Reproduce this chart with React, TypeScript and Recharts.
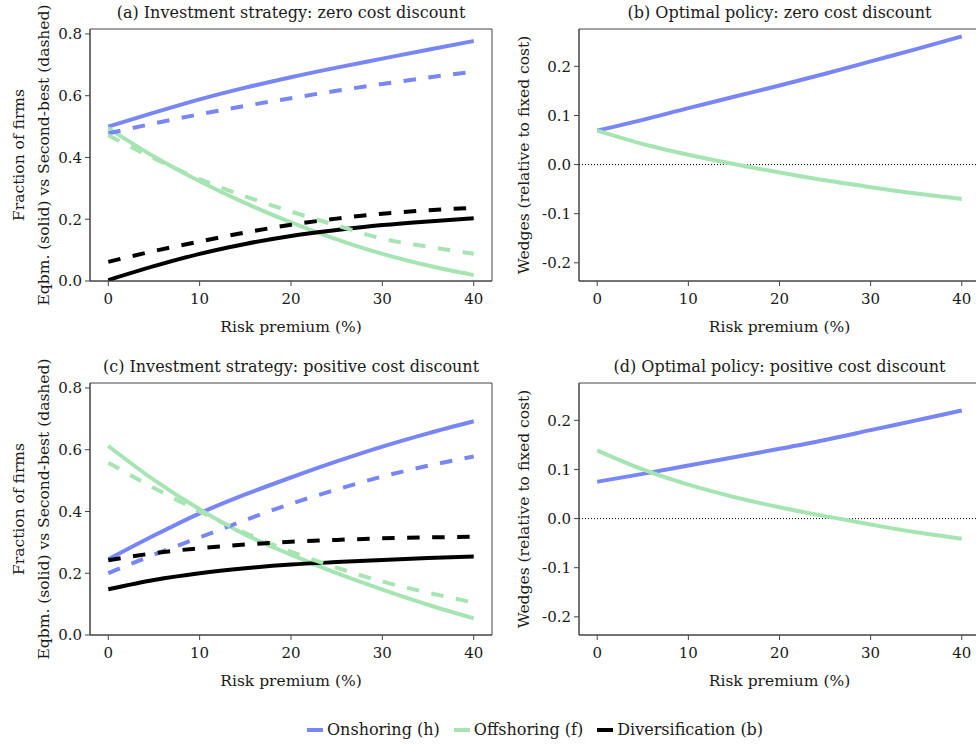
import { LineChart, Line, XAxis, YAxis, ReferenceLine, ReferenceArea, Legend, Label } from 'recharts';

const FONT = '"DejaVu Serif", serif';
const BLUE = '#7986F6';
const GREEN = '#A6E5B3';
const BLACK = '#000000';

// risk premium (%) on the x axis
const riskPremium = [0, 5, 10, 15, 20, 25, 30, 35, 40];
const xTicks = [0, 10, 20, 30, 40];

// (a) zero cost discount: fraction of firms, eqbm vs second-best
const aOnshoreEq = [0.5, 0.545, 0.588, 0.626, 0.66, 0.691, 0.72, 0.749, 0.777];
const aOnshoreSb = [0.478, 0.51, 0.54, 0.567, 0.592, 0.616, 0.638, 0.659, 0.678];
const aOffshoreEq = [0.495, 0.403, 0.323, 0.252, 0.19, 0.135, 0.088, 0.05, 0.019];
const aOffshoreSb = [0.472, 0.397, 0.33, 0.274, 0.225, 0.18, 0.137, 0.111, 0.088];
const aDiverseEq = [0.003, 0.048, 0.088, 0.12, 0.146, 0.165, 0.181, 0.193, 0.203];
const aDiverseSb = [0.062, 0.097, 0.128, 0.157, 0.182, 0.202, 0.218, 0.229, 0.237];

// (b) zero cost discount: wedges
const bOnshore = [0.069, 0.091, 0.115, 0.138, 0.161, 0.185, 0.21, 0.235, 0.261];
const bOffshore = [0.069, 0.042, 0.02, 0.001, -0.016, -0.032, -0.046, -0.059, -0.07];

// (c) positive cost discount: fraction of firms
const cOnshoreEq = [0.245, 0.322, 0.394, 0.455, 0.51, 0.562, 0.61, 0.653, 0.692];
const cOnshoreSb = [0.2, 0.26, 0.316, 0.372, 0.425, 0.471, 0.513, 0.548, 0.578];
const cOffshoreEq = [0.612, 0.502, 0.407, 0.325, 0.26, 0.2, 0.147, 0.098, 0.054];
const cOffshoreSb = [0.558, 0.476, 0.4, 0.33, 0.27, 0.218, 0.173, 0.137, 0.105];
const cDiverseEq = [0.148, 0.178, 0.2, 0.216, 0.228, 0.236, 0.243, 0.249, 0.254];
const cDiverseSb = [0.242, 0.265, 0.281, 0.293, 0.302, 0.308, 0.313, 0.316, 0.318];

// (d) positive cost discount: wedges
const dOnshore = [0.075, 0.091, 0.108, 0.125, 0.142, 0.16, 0.18, 0.2, 0.22];
const dOffshore = [0.139, 0.1, 0.069, 0.044, 0.023, 0.005, -0.012, -0.028, -0.041];

const shareTicks = [0, 0.2, 0.4, 0.6, 0.8];
const wedgeTicks = [-0.2, -0.1, 0, 0.1, 0.2];
const legendOrder = ['Onshoring (h)', 'Offshoring (f)', 'Diversification (b)'];

const shareRows = (on: number[], onSb: number[], off: number[], offSb: number[], div: number[], divSb: number[]) =>
  riskPremium.map((x, i) => ({ x, on: on[i], onSb: onSb[i], off: off[i], offSb: offSb[i], div: div[i], divSb: divSb[i] }));

const wedgeRows = (on: number[], off: number[]) => riskPremium.map((x, i) => ({ x, on: on[i], off: off[i] }));

const shareSeries = [
  { key: 'on', name: legendOrder[0], color: BLUE },
  { key: 'off', name: legendOrder[1], color: GREEN },
  { key: 'div', name: legendOrder[2], color: BLACK },
  { key: 'onSb', name: legendOrder[0], color: BLUE, dashed: true },
  { key: 'offSb', name: legendOrder[1], color: GREEN, dashed: true },
  { key: 'divSb', name: legendOrder[2], color: BLACK, dashed: true },
];

const wedgeSeries = [
  { key: 'on', name: legendOrder[0], color: BLUE },
  { key: 'off', name: legendOrder[1], color: GREEN },
];

const tickStyle = { fontFamily: FONT, fontSize: 15, fill: '#1a1a1a' };

const renderLegend = (props: any) => {
  const items = (props.payload || [])
    .filter((p: any) => p.type !== 'none')
    .sort((a: any, b: any) => legendOrder.indexOf(a.value) - legendOrder.indexOf(b.value));
  return (
    <div style={{ display: 'flex', alignItems: 'center', fontFamily: FONT, fontSize: 16, color: '#1a1a1a', whiteSpace: 'nowrap' }}>
      {items.map((p: any) => (
        <span key={p.value} style={{ display: 'flex', alignItems: 'center', marginRight: 14 }}>
          <span style={{ width: 16, height: 4, background: p.color, marginRight: 4 }} />
          {p.value}
        </span>
      ))}
    </div>
  );
};

type PanelProps = {
  left: number;
  top: number;
  plotLeft: number;
  plotRight: number;
  title: string;
  rows: any[];
  series: { key: string; name: string; color: string; dashed?: boolean }[];
  yDomain: [number, number];
  yTicks: number[];
  yLabel: string[];
  zeroLine?: boolean;
  legend?: boolean;
};

function Panel({ left, top, plotLeft, plotRight, title, rows, series, yDomain, yTicks, yLabel, zeroLine, legend }: PanelProps) {
  const width = plotRight - left + 8;
  const yAxisW = plotLeft - left;

  const yLabelContent = (props: any) => {
    const vb = props.viewBox;
    const cy = vb.y + vb.height / 2;
    const xs = yLabel.length === 2 ? [19 - left, 44 - left] : [524 - left];
    return (
      <g>
        {yLabel.map((t, i) => (
          <text key={t} x={xs[i]} y={cy} transform={`rotate(-90 ${xs[i]} ${cy})`} textAnchor="middle"
            dominantBaseline="central" fontFamily={FONT} fontSize={15.5} fill="#1a1a1a">{t}</text>
        ))}
      </g>
    );
  };

  const xLabelContent = (props: any) => {
    const vb = props.viewBox;
    return (
      <text x={vb.x + vb.width / 2} y={vb.y + 46} textAnchor="middle" dominantBaseline="central"
        fontFamily={FONT} fontSize={15.5} fill="#1a1a1a">Risk premium (%)</text>
    );
  };

  return (
    <div style={{ position: 'absolute', left, top }}>
      <div style={{ position: 'absolute', left: yAxisW, width: plotRight - plotLeft, top: 3, textAlign: 'center',
        fontFamily: FONT, fontSize: 16, color: '#1a1a1a', whiteSpace: 'nowrap', zIndex: 2 }}>{title}</div>
      <LineChart width={width} height={340} data={rows} margin={{ top: 29, right: 8, bottom: 0, left: 0 }}>
        <XAxis dataKey="x" type="number" domain={[-2, 42]} ticks={xTicks} allowDataOverflow
          tick={tickStyle} tickSize={5} tickMargin={7} height={59}
          axisLine={{ stroke: '#444' }} tickLine={{ stroke: '#444' }}>
          <Label content={xLabelContent} />
        </XAxis>
        <YAxis type="number" domain={yDomain} ticks={yTicks} allowDataOverflow width={yAxisW}
          tick={tickStyle} tickSize={5} tickMargin={3} tickFormatter={(v: number) => v.toFixed(1)}
          axisLine={{ stroke: '#444' }} tickLine={{ stroke: '#444' }}>
          <Label content={yLabelContent} />
        </YAxis>
        <ReferenceArea x1={-2} x2={42} y1={yDomain[0]} y2={yDomain[1]} fill="none" stroke="#444" strokeWidth={1} ifOverflow="visible" />
        {zeroLine && <ReferenceLine y={0} stroke="#000" strokeWidth={1} strokeDasharray="1 2" />}
        {series.map((s) => (
          <Line key={s.key} dataKey={s.key} name={s.name} type="monotone" stroke={s.color}
            strokeWidth={4} strokeDasharray={s.dashed ? '12.5 12.5' : undefined} dot={false}
            activeDot={false} legendType={s.dashed ? 'none' : 'line'} isAnimationActive={false} />
        ))}
        {legend && (
          <Legend verticalAlign="middle" align="center" layout="horizontal" content={renderLegend}
            wrapperStyle={{ top: 720 - top, left: 307 - left, width: 'auto' }} />
        )}
      </LineChart>
    </div>
  );
}

export default function App() {
  return (
    <div style={{ position: 'absolute', left: 0, top: 0, width: 976, height: 744, overflow: 'hidden', background: '#fff' }}>
      <Panel left={0} top={0} plotLeft={90} plotRight={492}
        title="(a) Investment strategy: zero cost discount"
        rows={shareRows(aOnshoreEq, aOnshoreSb, aOffshoreEq, aOffshoreSb, aDiverseEq, aDiverseSb)}
        series={shareSeries} yDomain={[0, 0.816]} yTicks={shareTicks}
        yLabel={['Fraction of firms', 'Eqbm. (solid) vs Second-best (dashed)']} />
      <Panel left={490} top={0} plotLeft={579} plotRight={980}
        title="(b) Optimal policy: zero cost discount"
        rows={wedgeRows(bOnshore, bOffshore)} series={wedgeSeries}
        yDomain={[-0.237, 0.276]} yTicks={wedgeTicks}
        yLabel={['Wedges (relative to fixed cost)']} zeroLine />
      <Panel left={0} top={354} plotLeft={90} plotRight={492}
        title="(c) Investment strategy: positive cost discount"
        rows={shareRows(cOnshoreEq, cOnshoreSb, cOffshoreEq, cOffshoreSb, cDiverseEq, cDiverseSb)}
        series={shareSeries} yDomain={[0, 0.816]} yTicks={shareTicks}
        yLabel={['Fraction of firms', 'Eqbm. (solid) vs Second-best (dashed)']} legend />
      <Panel left={490} top={354} plotLeft={579} plotRight={980}
        title="(d) Optimal policy: positive cost discount"
        rows={wedgeRows(dOnshore, dOffshore)} series={wedgeSeries}
        yDomain={[-0.237, 0.276]} yTicks={wedgeTicks}
        yLabel={['Wedges (relative to fixed cost)']} zeroLine />
    </div>
  );
}
